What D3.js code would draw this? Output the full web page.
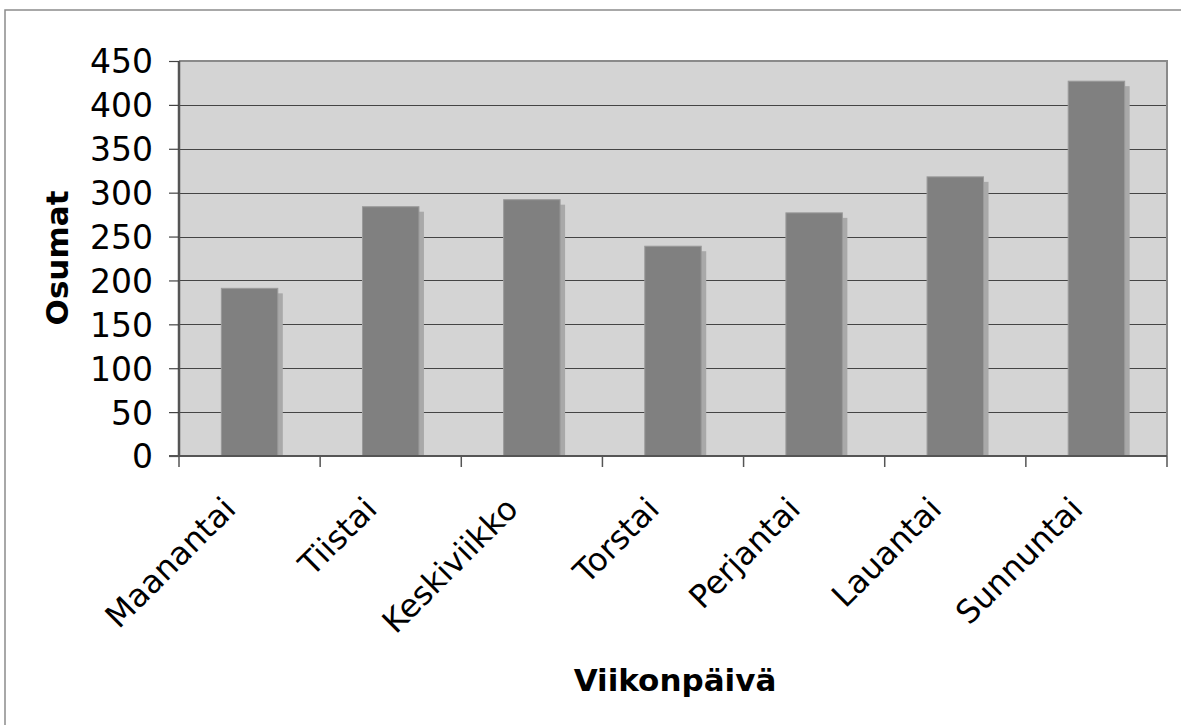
<!DOCTYPE html>
<html>
<head>
<meta charset="utf-8">
<script src="https://cdn.jsdelivr.net/npm/d3@7"></script>
<style>
  html, body { margin: 0; padding: 0; background: #fff; }
  svg { display: block; }
  text { font-family: "DejaVu Sans", Verdana, sans-serif; }
</style>
</head>
<body>
<svg id="chart" width="1181" height="725"></svg>
<script>
const categories = ["Maanantai", "Tiistai", "Keskiviikko", "Torstai", "Perjantai", "Lauantai", "Sunnuntai"];
const values = [191, 284, 292, 239, 277, 318, 427];
const yTicks = [0, 50, 100, 150, 200, 250, 300, 350, 400, 450];
const xTitle = "Viikonpäivä";
const yTitle = "Osumat";

const svg = d3.select("#chart");
const m = { left: 179, top: 61, right: 1167, bottom: 456 };

// outer frame
svg.append("rect").attr("x", 5).attr("y", 10).attr("width", 1300).attr("height", 900)
  .attr("fill", "#fff").attr("stroke", "#8c8c8c").attr("stroke-width", 1.5);

const x = d3.scaleBand().domain(categories).range([m.left, m.right]).paddingInner(0).paddingOuter(0);
const y = d3.scaleLinear().domain([0, 450]).range([m.bottom, m.top]);

// plot background
svg.append("rect").attr("x", m.left).attr("y", m.top)
  .attr("width", m.right - m.left).attr("height", m.bottom - m.top)
  .attr("fill", "#d4d4d4");

// gridlines
svg.append("g").selectAll("line").data(yTicks.filter(d => d > 0 && d < 450)).join("line")
  .attr("x1", m.left).attr("x2", m.right)
  .attr("y1", d => Math.round(y(d)) + 0.5).attr("y2", d => Math.round(y(d)) + 0.5)
  .attr("stroke", "#444").attr("stroke-width", 1.2);

// frame top/right
svg.append("path")
  .attr("d", `M${m.left},${m.top}H${m.right}V${m.bottom}`)
  .attr("fill", "none").attr("stroke", "#8a8a8a").attr("stroke-width", 2);

const bw = x.bandwidth() * 0.40;
const off = 5;
const bars = svg.append("g");
// shadows
bars.selectAll("rect.sh").data(categories).join("rect").attr("class", "sh")
  .attr("x", d => x(d) + (x.bandwidth() - bw) / 2 + off)
  .attr("y", (d, i) => y(values[i]) + off)
  .attr("width", bw)
  .attr("height", (d, i) => m.bottom - y(values[i]) - off)
  .attr("fill", "#a9a9a9");
// bars
bars.selectAll("rect.b").data(categories).join("rect").attr("class", "b")
  .attr("x", d => x(d) + (x.bandwidth() - bw) / 2)
  .attr("y", (d, i) => y(values[i]))
  .attr("width", bw)
  .attr("height", (d, i) => m.bottom - y(values[i]))
  .attr("fill", "#808080").attr("stroke", "#9a9a9a").attr("stroke-width", 1);

// y axis
const yAxis = d3.axisLeft(y).tickValues(yTicks).tickSize(10).tickPadding(16).tickFormat(d3.format("d"));
const gy = svg.append("g").attr("transform", `translate(${m.left},0)`).call(yAxis);
gy.select(".domain").attr("stroke", "#555").attr("stroke-width", 2.5).attr("d", `M0,${m.top}V${m.bottom}`);
gy.selectAll(".tick line").attr("stroke", "#444").attr("stroke-width", 1.2);
gy.selectAll(".tick text").attr("font-size", 33).attr("fill", "#000")
  .attr("font-family", "DejaVu Sans, Verdana, sans-serif").attr("dy", "0.36em");

// x axis
const gx = svg.append("g").attr("transform", `translate(0,${m.bottom})`);
gx.append("line").attr("x1", m.left - 10).attr("x2", m.right).attr("y1", 0).attr("y2", 0)
  .attr("stroke", "#555").attr("stroke-width", 2);
const bounds = categories.map(d => x(d)).concat([m.right]);
gx.selectAll("line.t").data(bounds).join("line").attr("class", "t")
  .attr("x1", d => d).attr("x2", d => d).attr("y1", 0).attr("y2", 11)
  .attr("stroke", "#555").attr("stroke-width", 1.5);
gx.selectAll("text").data(categories).join("text")
  .attr("transform", d => `translate(${x(d) + x.bandwidth() / 2 - 12},55) rotate(-45)`)
  .attr("text-anchor", "end").attr("font-size", 32).attr("fill", "#000")
  .text(d => d);

// titles
svg.append("text").attr("x", 675).attr("y", 691).attr("text-anchor", "middle")
  .attr("font-size", 31).attr("font-weight", "bold").attr("fill", "#000").text(xTitle);
svg.append("text").attr("transform", `translate(68,258) rotate(-90)`).attr("text-anchor", "middle")
  .attr("font-size", 31).attr("font-weight", "bold").attr("fill", "#000").text(yTitle);
</script>
</body>
</html>
